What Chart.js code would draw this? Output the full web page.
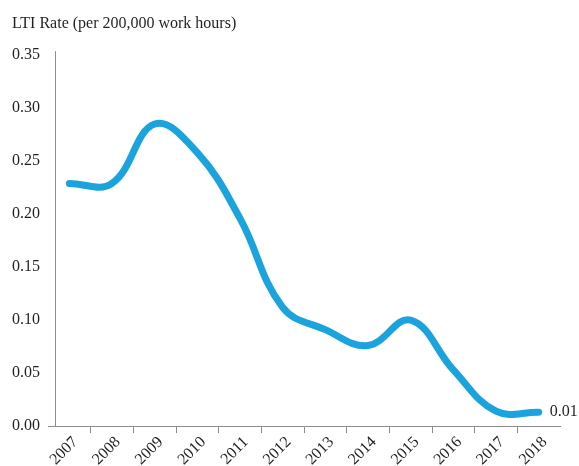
<!DOCTYPE html>
<html>
<head>
<meta charset="utf-8">
<script src="https://cdn.jsdelivr.net/npm/chart.js@4"></script>
<style>
  html, body { margin: 0; padding: 0; background: #fff; }
  #wrap { width: 579px; height: 466px; }
</style>
</head>
<body>
<div id="wrap"><canvas id="lti-chart"></canvas></div>
<script>
const years = ['2007', '2008', '2009', '2010', '2011', '2012', '2013', '2014', '2015', '2016', '2017', '2018'];
const ltiRate = [0.229, 0.229, 0.285, 0.258, 0.196, 0.112, 0.091, 0.076, 0.100, 0.053, 0.014, 0.013];
const yTicks = [0, 0.05, 0.10, 0.15, 0.20, 0.25, 0.30, 0.35];

const textColor = '#231f20';
const axisColor = '#8c8c8c';
const lineColor = '#1ba3de';

Chart.defaults.font.family = "'Liberation Serif', 'Times New Roman', serif";
Chart.defaults.color = textColor;

// y axis line sits a little right of where the x axis starts, and the last value is written after the line
const extras = {
  id: 'extras',
  beforeDatasetsDraw(chart) {
    const { ctx, chartArea } = chart;
    const x = chartArea.left + 7.5;
    ctx.save();
    ctx.strokeStyle = axisColor;
    ctx.lineWidth = 1;
    ctx.beginPath();
    ctx.moveTo(x, chartArea.top - 4);
    ctx.lineTo(x, chartArea.bottom);
    ctx.stroke();
    ctx.restore();
  },
  afterDatasetsDraw(chart) {
    const { ctx } = chart;
    const pts = chart.getDatasetMeta(0).data;
    const last = pts[pts.length - 1];
    ctx.save();
    ctx.fillStyle = textColor;
    ctx.font = "16px 'Liberation Serif', 'Times New Roman', serif";
    ctx.textAlign = 'left';
    ctx.textBaseline = 'middle';
    ctx.fillText(ltiRate[ltiRate.length - 1].toFixed(2), last.x + 11, last.y);
    ctx.restore();
  }
};

new Chart(document.getElementById('lti-chart'), {
  type: 'line',
  data: {
    labels: years,
    datasets: [{
      data: ltiRate,
      borderColor: lineColor,
      borderWidth: 7,
      borderCapStyle: 'round',
      borderJoinStyle: 'round',
      tension: 0.4,
      pointRadius: 0,
      fill: false
    }]
  },
  options: {
    responsive: true,
    maintainAspectRatio: false,
    animation: false,
    layout: { padding: { left: 12, right: 19, top: 0, bottom: -3 } },
    plugins: {
      legend: { display: false },
      tooltip: { enabled: false },
      title: {
        display: true,
        text: 'LTI Rate (per 200,000 work hours)',
        align: 'start',
        color: textColor,
        font: { size: 16, weight: 'normal' },
        padding: { top: 14, bottom: 22 }
      }
    },
    scales: {
      x: {
        offset: true,
        grid: {
          display: true,
          offset: true,
          drawOnChartArea: false,
          tickLength: 7,
          color: c => (c.type !== 'tick' || c.index === 0) ? 'rgba(0,0,0,0)' : axisColor
        },
        border: { display: true, color: axisColor },
        ticks: {
          minRotation: 45,
          maxRotation: 45,
          autoSkip: false,
          padding: 1,
          labelOffset: 6,
          color: textColor,
          font: { size: 16, lineHeight: 1 }
        }
      },
      y: {
        min: yTicks[0],
        max: yTicks[yTicks.length - 1],
        afterBuildTicks: axis => { axis.ticks = yTicks.map(v => ({ value: v })); },
        afterFit: axis => { axis.width = 36; },
        grid: { display: false, drawTicks: false },
        border: { display: false },
        ticks: {
          padding: 8,
          color: textColor,
          font: { size: 16 },
          callback: v => Number(v).toFixed(2)
        }
      }
    }
  },
  plugins: [extras]
});
</script>
</body>
</html>
